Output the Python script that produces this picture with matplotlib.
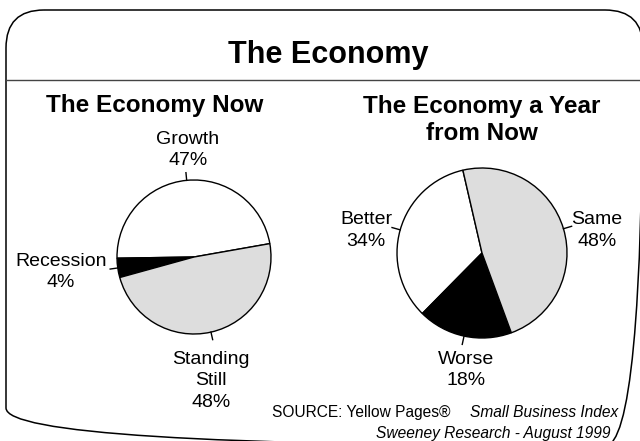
import numpy as np
import matplotlib.pyplot as plt
from matplotlib.patches import FancyBboxPatch

plt.rcParams['font.family'] = ['Liberation Sans', 'DejaVu Sans']

# data
now_labels = ['Growth', 'Recession', 'Standing\nStill']
now_values = [47, 4, 48]
year_labels = ['Better', 'Worse', 'Same']
year_values = [34, 18, 48]
slice_colors = ['white', 'black', '#dddddd']

W, H = 640, 441
fig = plt.figure(figsize=(W / 100, H / 100), dpi=100)

# background axes in pixel units (y down)
bg = fig.add_axes([0, 0, 1, 1])
bg.set_xlim(0, W)
bg.set_ylim(H, 0)
bg.axis('off')

box = FancyBboxPatch((6, 10), 637, 436, boxstyle='round,pad=0,rounding_size=38',
                     facecolor='none', edgecolor='black', linewidth=1.1)
bg.add_patch(box)
bg.plot([6, 640], [80, 80], color='#444444', lw=1.0)

bg.text(328, 55, 'The Economy', ha='center', va='center', fontsize=22, fontweight='bold')
bg.text(155, 112, 'The Economy Now', ha='center', va='baseline', fontsize=17.5, fontweight='bold')
bg.text(482, 113, 'The Economy a Year', ha='center', va='baseline', fontsize=17.5, fontweight='bold')
bg.text(482, 140, 'from Now', ha='center', va='baseline', fontsize=17.5, fontweight='bold')

bg.text(272, 417, 'SOURCE: Yellow Pages\u00ae', ha='left', va='baseline', fontsize=11.2)
bg.text(618, 417, 'Small Business Index', ha='right', va='baseline', fontsize=11.2, style='italic')
bg.text(611, 438, 'Sweeney Research - August 1999', ha='right', va='baseline', fontsize=11.2,
        style='italic')


def pie_axes(cx, cy, r):
    return fig.add_axes([(cx - r) / W, (H - cy - r) / H, 2 * r / W, 2 * r / H])


def draw_pie(ax, values, labels, start, label_pos):
    wedges, _ = ax.pie(values, colors=slice_colors, startangle=start, counterclock=True,
                       wedgeprops=dict(edgecolor='black', linewidth=1.0, clip_on=False))
    ax.set_xlim(-1, 1)
    ax.set_ylim(-1, 1)
    for w, lab, val, (lx, ly) in zip(wedges, labels, values, label_pos):
        a = np.deg2rad((w.theta1 + w.theta2) / 2)
        ax.plot([np.cos(a), 1.1 * np.cos(a)], [np.sin(a), 1.1 * np.sin(a)],
                color='black', lw=1.0, clip_on=False)
        ax.text(lx, ly, f'{lab}\n{val}%', ha='center', va='center', fontsize=14,
                linespacing=1.32)


ax1 = pie_axes(194, 257, 77)
draw_pie(ax1, now_values, now_labels, 10, [(-0.08, 1.39), (-1.73, -0.19), (0.22, -1.61)])

ax2 = pie_axes(482, 253, 85)
draw_pie(ax2, year_values, year_labels, 103, [(-1.365, 0.265), (-0.19, -1.376), (1.353, 0.265)])

fig.savefig('out.png', dpi=100)
